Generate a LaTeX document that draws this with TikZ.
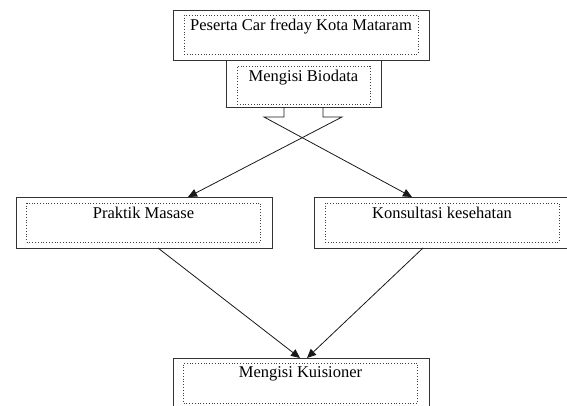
\documentclass[tikz,border=0pt]{standalone}
\usepackage{fontspec}
\setmainfont{Liberation Serif}
\usetikzlibrary{arrows.meta}
\tikzset{
  outerbox/.style={draw=black!80, line width=0.8pt, inner sep=0pt, outer sep=0pt,
    minimum width=256pt, minimum height=50pt},
  innerbox/.style={draw=black!75, dotted, line width=0.8pt, inner sep=0pt,
    minimum width=234pt, minimum height=39pt},
  boxtext/.style={anchor=north, inner sep=0pt, font=\fontsize{16.5}{19}\selectfont},
  flow/.style={draw=black!90, line width=0.8pt, -{Triangle[length=9pt,width=8pt]}},
}
\begin{document}
\begin{tikzpicture}[x=1pt,y=-1pt]
  \useasboundingbox (0,0) rectangle (567,405);
  \clip (0,0) rectangle (567,405);
  \node[outerbox] (peserta) at (301,35) {};
  \node[innerbox] (pesertaIn) at (301,34.5) {};
  \node[boxtext] (pesertaText) at ([yshift=-4pt]pesertaIn.north) {Peserta Car freday Kota Mataram};
  \node[outerbox, minimum width=155pt, minimum height=47pt] (bio) at (303.5,83.5) {};
  \node[innerbox, minimum width=133pt, minimum height=38pt] (bioIn) at (303.5,85) {};
  \node[boxtext] (bioText) at ([yshift=-4pt]bioIn.north) {Mengisi Biodata};
  \node[outerbox, minimum height=51pt] (praktik) at (144,222.5) {};
  \node[innerbox] (praktikIn) at (143.5,222.5) {};
  \node[boxtext] (praktikText) at ([yshift=-4pt]praktikIn.north) {Praktik Masase};
  \node[outerbox, minimum height=51pt] (konsul) at (442,222.5) {};
  \node[innerbox] (konsulIn) at (442,222.5) {};
  \node[boxtext] (konsulText) at ([yshift=-4pt]konsulIn.north) {Konsultasi kesehatan};
  \node[outerbox] (kuis) at (301,383) {};
  \node[innerbox, minimum height=40pt] (kuisIn) at (300.5,383) {};
  \node[boxtext] (kuisText) at ([yshift=-4pt]kuisIn.north) {Mengisi Kuisioner};
  \begin{scope}[flow]
    \draw ([xshift=-19.5pt]bio.south) -- ++(0,10) -- ++(-20,0) -- ([xshift=-30pt]konsul.north);
    \draw ([xshift=19.5pt]bio.south) -- ++(0,10) -- ++(19,0) -- ([xshift=44pt]praktik.north);
    \draw ([xshift=14pt]praktik.south) -- ([xshift=-1pt]kuis.north);
    \draw ([xshift=-19pt]konsul.south) -- ([xshift=6pt]kuis.north);
  \end{scope}
\end{tikzpicture}
\end{document}
